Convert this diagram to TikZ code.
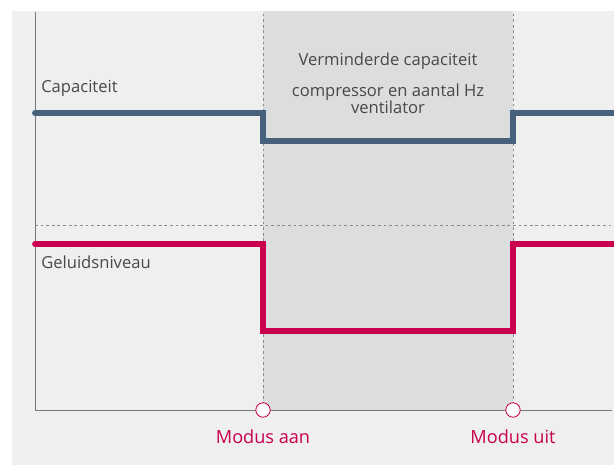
\documentclass[tikz,border=0pt]{standalone}
\usepackage{fontspec}
\setmainfont{Open Sans}
\usetikzlibrary{positioning}
\definecolor{BG}{RGB}{239,239,239}
\definecolor{SH}{RGB}{220,221,221}
\definecolor{CB}{RGB}{71,97,125}
\definecolor{CM}{RGB}{200,0,78}
\definecolor{AX}{RGB}{120,120,120}
\definecolor{TX}{RGB}{72,72,72}

\begin{document}
\begin{tikzpicture}[
  lvl/.style={line width=4.2pt, draw=#1, line cap=round, line join=miter},
  guide/.style={draw=AX!85, dash pattern=on 2pt off 2pt, line width=0.5pt},
  lbl/.style={font=\fontsize{11.8}{12.2}\selectfont, text=TX, inner sep=0pt},
  modus/.style={font=\fontsize{12.9}{14}\selectfont, text=CM, inner sep=0pt},
  dot/.style={circle, draw=CM, fill=white, line width=0.6pt,
              minimum size=0.36cm, inner sep=0pt}
]
% page and panel
\fill[white] (-0.875,-1.375) rectangle (14.475,10.25);
\useasboundingbox (-0.875,-1.375) rectangle (14.475,10.25);
\fill[BG] (-0.575,-1.375) rectangle (14.475,9.975);

% reduced zone
\fill[SH] (5.7,0) rectangle (11.95,9.975);

% mode switch points
\coordinate (aan) at (5.7,0);
\coordinate (uit) at (11.95,0);

% guides
\draw[guide] (aan) -- (5.7,9.975);
\draw[guide] (uit) -- (11.95,9.975);
\draw[guide] (0,4.625) -- (14.475,4.625);

% axes
\draw[AX, line width=0.7pt] (0,9.95) -- (0,0) -- (14.425,0);

% levels
\draw[lvl=CB] (0,7.425) -- (5.7,7.425) -- (5.7,6.725)
  -- (11.95,6.725) -- (11.95,7.425) -- (14.6,7.425);
\draw[lvl=CM] (0,4.15) -- (5.7,4.15) -- (5.7,1.975)
  -- (11.95,1.975) -- (11.95,4.15) -- (14.6,4.15);

% texts
\node[lbl, anchor=west] (cap) at (0.15,8.05) {Capaciteit};
\node[lbl, anchor=west] (geluid) at (0.15,3.7) {Geluidsniveau};
\node[lbl] (zone) at (8.825,8.725) {Verminderde capaciteit};
\node[lbl, align=center] (zonesub) at (8.825,7.79)
  {compressor en aantal Hz\\ventilator};

% mode markers
\node[dot] (aandot) at (aan) {};
\node[dot] (uitdot) at (uit) {};
\node[modus, below=0.3cm of aandot] (aanlbl) {Modus aan};
\node[modus, below=0.3cm of uitdot] (uitlbl) {Modus uit};
\end{tikzpicture}
\end{document}
